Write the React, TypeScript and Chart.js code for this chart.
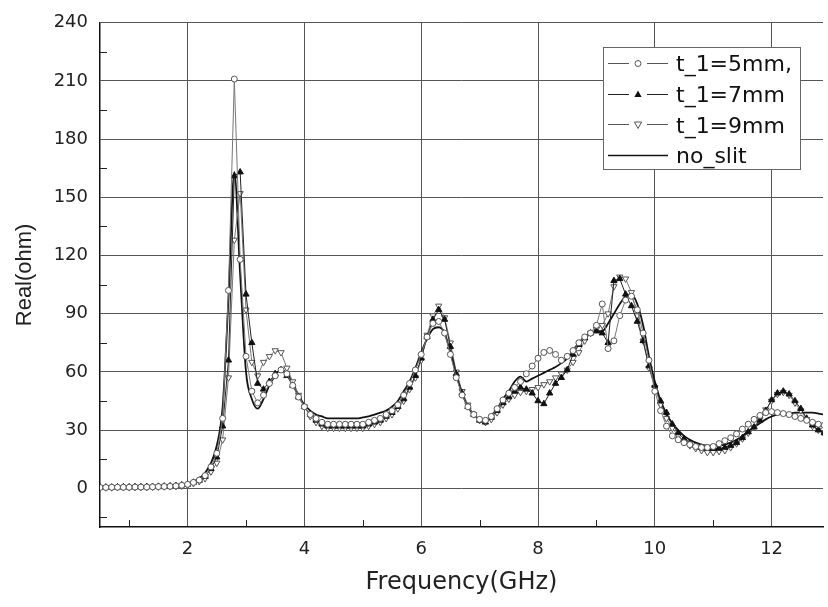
import React, { useEffect, useRef } from 'react';
import { Chart, registerables } from 'chart.js';

Chart.register(...registerables);

// Frequency (GHz)
const freq = [
  0.5, 0.6, 0.7, 0.8, 0.9, 1.0, 1.1, 1.2, 1.3, 1.4,
  1.5, 1.6, 1.7, 1.8, 1.9, 2.0, 2.1, 2.2, 2.3, 2.4,
  2.5, 2.6, 2.7, 2.8, 2.9, 3.0, 3.1, 3.2, 3.3, 3.4,
  3.5, 3.6, 3.7, 3.8, 3.9, 4.0, 4.1, 4.2, 4.3, 4.4,
  4.5, 4.6, 4.7, 4.8, 4.9, 5.0, 5.1, 5.2, 5.3, 5.4,
  5.5, 5.6, 5.7, 5.8, 5.9, 6.0, 6.1, 6.2, 6.3, 6.4,
  6.5, 6.6, 6.7, 6.8, 6.9, 7.0, 7.1, 7.2, 7.3, 7.4,
  7.5, 7.6, 7.7, 7.8, 7.9, 8.0, 8.1, 8.2, 8.3, 8.4,
  8.5, 8.6, 8.7, 8.8, 8.9, 9.0, 9.1, 9.2, 9.3, 9.4,
  9.5, 9.6, 9.7, 9.8, 9.9, 10.0, 10.1, 10.2, 10.3, 10.4,
  10.5, 10.6, 10.7, 10.8, 10.9, 11.0, 11.1, 11.2, 11.3, 11.4,
  11.5, 11.6, 11.7, 11.8, 11.9, 12.0, 12.1, 12.2, 12.3, 12.4,
  12.5, 12.6, 12.7, 12.8, 12.9,
];

// t_1 = 5mm
const t5 = [
  0.4, 0.4, 0.5, 0.5, 0.5, 0.5, 0.6, 0.6, 0.6, 0.7,
  0.8, 0.9, 1.0, 1.2, 1.5, 2.0, 3.0, 4.2, 6.5, 11,
  18, 36, 102, 211, 118, 68, 50, 44, 48, 54,
  58, 61, 59, 53, 47, 42, 38, 36, 34, 33,
  33, 33, 33, 33, 33, 33, 34, 35, 36, 38,
  40, 43, 48, 54, 61, 69, 78, 85, 86, 80,
  69, 57, 48, 42, 38, 35.5, 35, 37, 41, 45.5,
  49, 52, 55, 59, 63, 67, 70, 71, 69, 66,
  68, 71, 75, 78, 80, 84, 95, 72, 76, 89,
  97, 99, 92, 80, 66, 50, 40, 32, 27, 25,
  23.5, 22.5, 21.5, 21, 21, 21.5, 23, 24.5, 26, 28,
  30.5, 33, 35.5, 37.5, 39, 39.5, 39, 38.5, 38, 37,
  36, 35, 34, 33, 32.5,
];

// t_1 = 7mm
const t7 = [
  0.5, 0.5, 0.5, 0.6, 0.6, 0.6, 0.7, 0.7, 0.8, 0.8,
  0.9, 1.0, 1.1, 1.3, 1.6, 2.0, 3.0, 4.0, 6.0, 10,
  16, 32, 66, 161, 163, 100, 75, 54, 51, 55,
  59, 61, 58, 53, 47, 42, 38, 35, 33, 32,
  32, 32, 32, 32, 32, 32, 33, 34, 35, 37,
  39, 42, 46, 52, 58, 67, 78, 87, 92, 87,
  73, 59, 49, 42, 38, 35, 34, 36.5, 40, 44,
  47, 50, 52, 51, 49, 45, 43.5, 49, 54, 57,
  61, 69, 74, 77.5, 80, 81, 80, 75, 107, 108,
  100, 94, 86, 76, 63, 53, 45, 39, 33, 28.5,
  25.5, 23.5, 22, 21, 20.5, 20.5, 20.5, 21, 22, 23.5,
  26, 29, 31.5, 35, 40, 45.5, 49, 50, 48.5, 45,
  41, 36, 32.5, 30, 28.5,
];

// t_1 = 9mm
const t9 = [
  0.3, 0.3, 0.3, 0.4, 0.4, 0.4, 0.5, 0.5, 0.5, 0.6,
  0.7, 0.8, 0.9, 1.0, 1.2, 1.5, 2.5, 3.5, 5.0, 8.5,
  13, 25, 57, 128, 152, 92, 65, 58, 65, 68,
  71, 70, 62, 55, 48, 42, 37, 34, 32, 31,
  31, 31, 31, 31, 31, 31, 32, 33, 34, 36,
  38, 41, 45, 51, 57, 66, 79, 89, 94, 88,
  75, 60, 50, 43, 38, 35, 34, 35.5, 39, 43,
  46, 48, 49.5, 50, 51, 52, 53.5, 55, 57, 59,
  61, 65, 70, 76, 80, 82, 84, 90, 104, 109,
  108, 101, 89, 76, 62, 52, 43, 36, 31, 27,
  24, 22, 20.5, 19.5, 18.5, 18.5, 19, 19.5, 21, 23,
  25.5, 28.5, 31.5, 35.5, 40.5, 45, 48.5, 49.5, 48, 44,
  40, 35.5, 32, 30, 28,
];

// no_slit
const noSlit = [
  0.6, 0.6, 0.6, 0.7, 0.7, 0.7, 0.8, 0.8, 0.9, 1.0,
  1.1, 1.2, 1.4, 1.7, 2.0, 2.5, 3.5, 5.0, 8.0, 13,
  22, 42, 98, 163, 110, 60, 46, 41, 46, 53,
  58, 61, 59, 54, 48, 43, 40, 38, 37, 36,
  36, 36, 36, 36, 36, 36.5, 37, 38, 39, 40,
  42, 45, 50, 55, 62, 70, 77, 82, 83, 80,
  70, 59, 49, 42, 38, 35.5, 35, 37.5, 41, 46,
  50, 55, 57.5, 55, 56.5, 58, 59.5, 61, 62.5, 64.5,
  67, 71, 75, 78, 80, 81, 81, 85, 90, 95,
  99, 100, 95, 84, 68, 55, 45, 38, 33.5, 30,
  27, 25, 23.5, 22.5, 22, 22, 22, 22.5, 23.5, 25,
  27, 29.5, 31.5, 33.5, 35.5, 37, 38, 38.5, 38.5, 39,
  39, 39, 39, 38.5, 38,
];

const xTicks = [2, 4, 6, 8, 10, 12];
const yTicks = [0, 30, 60, 90, 120, 150, 180, 210, 240];
const xMinorTicks = [1, 3, 5, 7, 9, 11];
const yMinorTicks = [-15, 15, 45, 75, 105, 135, 165, 195, 225];
const legendLabels = ['t_1=5mm,', 't_1=7mm', 't_1=9mm', 'no_slit'];

const TICK_FONT = 'DejaVu Sans';

function drawMarker(ctx: CanvasRenderingContext2D, kind: string, x: number, y: number) {
  ctx.save();
  ctx.lineWidth = 1;
  if (kind === 'circle') {
    ctx.beginPath();
    ctx.arc(x, y, 3, 0, Math.PI * 2);
    ctx.fillStyle = '#fff';
    ctx.fill();
    ctx.strokeStyle = '#555';
    ctx.stroke();
  } else if (kind === 'up') {
    ctx.beginPath();
    ctx.moveTo(x, y - 4);
    ctx.lineTo(x + 3.6, y + 2.5);
    ctx.lineTo(x - 3.6, y + 2.5);
    ctx.closePath();
    ctx.fillStyle = '#111';
    ctx.fill();
  } else if (kind === 'down') {
    ctx.beginPath();
    ctx.moveTo(x, y + 4);
    ctx.lineTo(x + 3.6, y - 2.5);
    ctx.lineTo(x - 3.6, y - 2.5);
    ctx.closePath();
    ctx.fillStyle = '#fff';
    ctx.fill();
    ctx.strokeStyle = '#555';
    ctx.stroke();
  }
  ctx.restore();
}

const decorPlugin = {
  id: 'decor',
  afterDraw(chart: any) {
    const ctx: CanvasRenderingContext2D = chart.ctx;
    const xs = chart.scales.x;
    const ys = chart.scales.y;
    const area = chart.chartArea;
    ctx.save();
    ctx.strokeStyle = '#222';
    ctx.lineWidth = 1;
    // minor ticks, pointing inward
    yMinorTicks.forEach((v) => {
      const py = Math.round(ys.getPixelForValue(v)) + 0.5;
      ctx.beginPath();
      ctx.moveTo(area.left, py);
      ctx.lineTo(area.left + 7, py);
      ctx.stroke();
    });
    xMinorTicks.forEach((v) => {
      const px = Math.round(xs.getPixelForValue(v)) + 0.5;
      ctx.beginPath();
      ctx.moveTo(px, area.bottom);
      ctx.lineTo(px, area.bottom - 7);
      ctx.stroke();
    });

    // legend box
    const bx = 603, by = 47, bw = 197, bh = 122;
    ctx.fillStyle = '#fff';
    ctx.fillRect(bx, by, bw, bh);
    ctx.strokeStyle = '#666';
    ctx.strokeRect(bx + 0.5, by + 0.5, bw, bh);

    const kinds = ['circle', 'up', 'down', 'none'];
    const lineColors = ['#555', '#222', '#555', '#111'];
    const baselines = [71, 102, 132.5, 163];
    ctx.font = `22px "${TICK_FONT}"`;
    ctx.textBaseline = 'alphabetic';
    ctx.textAlign = 'left';
    legendLabels.forEach((label, i) => {
      const cy = Math.round(baselines[i] - 8.5) + 0.5;
      ctx.strokeStyle = lineColors[i];
      ctx.lineWidth = kinds[i] === 'none' ? 1.6 : 1;
      ctx.beginPath();
      if (kinds[i] === 'none') {
        ctx.moveTo(608, cy);
        ctx.lineTo(668, cy);
      } else {
        ctx.moveTo(608, cy);
        ctx.lineTo(629, cy);
        ctx.moveTo(647, cy);
        ctx.lineTo(668, cy);
      }
      ctx.stroke();
      if (kinds[i] !== 'none') drawMarker(ctx, kinds[i], 638, cy);
      ctx.fillStyle = '#111';
      ctx.fillText(label, 676, baselines[i]);
    });
    ctx.restore();
  },
};

export default function App() {
  const canvasRef = useRef<HTMLCanvasElement | null>(null);

  useEffect(() => {
    const canvas = canvasRef.current;
    if (!canvas) return;
    const mk = (arr: number[]) => freq.map((x, i) => ({ x, y: arr[i] }));

    const chart = new Chart(canvas, {
      type: 'line',
      data: {
        datasets: [
          {
            label: legendLabels[0],
            data: mk(t5),
            borderColor: '#777',
            borderWidth: 1,
            pointStyle: 'circle',
            pointRadius: 3,
            pointBorderWidth: 1,
            pointBorderColor: '#555',
            pointBackgroundColor: '#fff',
          },
          {
            label: legendLabels[1],
            data: mk(t7),
            borderColor: '#222',
            borderWidth: 1,
            pointStyle: 'triangle',
            pointRadius: 3.6,
            pointBorderWidth: 1,
            pointBorderColor: '#111',
            pointBackgroundColor: '#111',
          },
          {
            label: legendLabels[2],
            data: mk(t9),
            borderColor: '#777',
            borderWidth: 1,
            pointStyle: 'triangle',
            pointRotation: 180,
            pointRadius: 3.6,
            pointBorderWidth: 1,
            pointBorderColor: '#555',
            pointBackgroundColor: '#fff',
          },
          {
            label: legendLabels[3],
            data: mk(noSlit),
            borderColor: '#111',
            borderWidth: 1.8,
            pointRadius: 0,
            cubicInterpolationMode: 'monotone',
          },
        ],
      },
      options: {
        animation: false,
        responsive: false,
        devicePixelRatio: 1,
        layout: { padding: { top: 17, right: 0, left: 0, bottom: 0 } },
        plugins: {
          legend: { display: false },
          tooltip: { enabled: false },
        },
        scales: {
          x: {
            type: 'linear',
            min: 0.5,
            max: 12.88,
            afterBuildTicks: (s: any) => {
              s.ticks = xTicks.map((v) => ({ value: v }));
            },
            afterFit: (s: any) => {
              s.height = 80;
            },
            ticks: {
              padding: 12,
              color: '#222',
              font: { family: TICK_FONT, size: 18 },
              maxRotation: 0,
            },
            grid: { color: '#555', lineWidth: 1, drawTicks: false },
            border: { display: true, color: '#111', width: 1.5 },
            title: {
              display: true,
              text: 'Frequency(GHz)',
              color: '#222',
              font: { family: TICK_FONT, size: 24 },
              padding: { top: 0, bottom: 10 },
            },
          },
          y: {
            type: 'linear',
            min: -20,
            max: 240,
            afterBuildTicks: (s: any) => {
              s.ticks = yTicks.map((v) => ({ value: v }));
            },
            afterFit: (s: any) => {
              s.width = 100;
            },
            ticks: {
              padding: 12,
              color: '#222',
              font: { family: TICK_FONT, size: 18 },
            },
            grid: { color: '#555', lineWidth: 1, drawTicks: false },
            border: { display: true, color: '#111', width: 1.5 },
            title: {
              display: true,
              text: 'Real(ohm)',
              color: '#222',
              font: { family: 'Liberation Sans', size: 22 },
              padding: { top: 12, bottom: 0 },
            },
          },
        },
      },
      plugins: [decorPlugin],
    } as any);

    return () => chart.destroy();
  }, []);

  return (
    <div style={{ position: 'absolute', left: 0, top: 0, width: 828, height: 607, background: '#fff', overflow: 'hidden' }}>
      <canvas ref={canvasRef} width={828} height={607} />
    </div>
  );
}
